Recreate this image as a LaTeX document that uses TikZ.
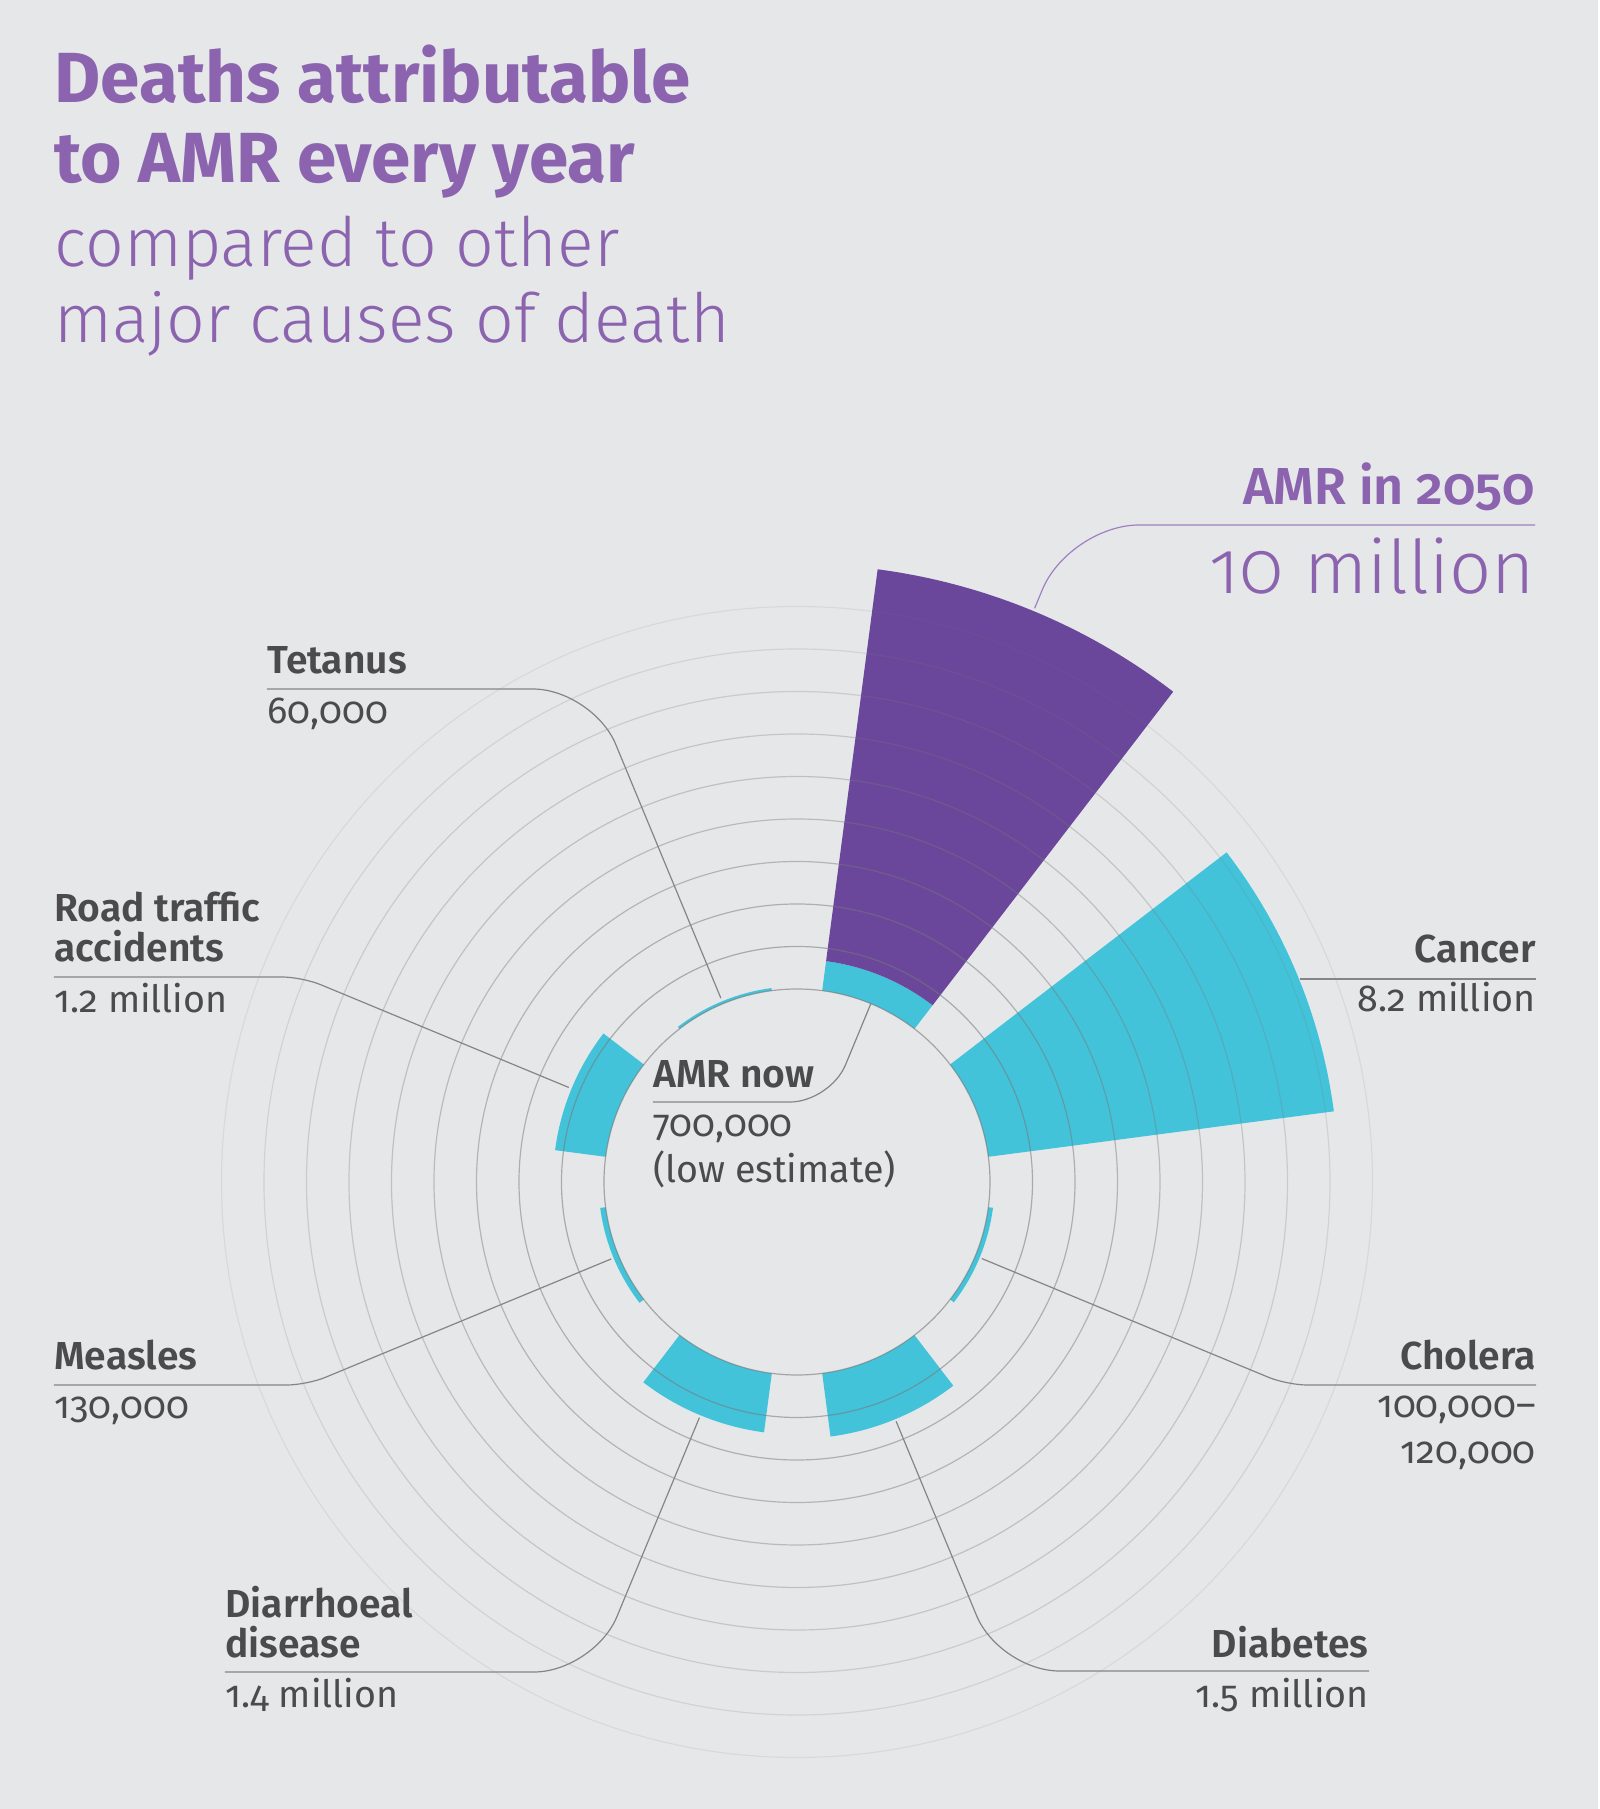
\documentclass[tikz,border=0pt]{standalone}
\usepackage{fontspec}
\setmainfont{Fira Sans}[Numbers=OldStyle]
\newfontfamily\lightfont{Fira Sans Light}[Numbers=OldStyle]
\newfontfamily\semifont{Fira Sans SemiBold}[Numbers=OldStyle]

\definecolor{bgcol}{HTML}{E6E7E9}
\definecolor{amrpurple}{HTML}{6A479B}
\definecolor{titlecol}{HTML}{8B63AE}
\definecolor{rulepurple}{HTML}{A080C2}
\definecolor{barcyan}{HTML}{43C3DA}
\definecolor{inkgray}{HTML}{4B4B4D}
\definecolor{ringcol}{HTML}{787878}
\definecolor{leadcol}{HTML}{858585}

\newcommand{\wedgebar}[5]{\fill[#1] (#2:#4) arc (#2:#3:#4) -- (#3:#5) arc (#3:#2:#5) -- cycle;}

\tikzset{
every node/.style={inner sep=0pt, text=inkgray},
cat/.style={font=\semifont\fontsize{19.5}{20}\selectfont},
val/.style={font=\fontsize{18.8}{23}\selectfont},
ring/.style={draw=ringcol, line width=0.6pt},
leader/.style={draw=leadcol, line width=0.6pt}
}

\begin{document}
\begin{tikzpicture}[x=0.5pt, y=0.5pt]
\fill[bgcol] (-797,-627) rectangle (803,1182);
\fill[white] (801,-627) rectangle (803,1182);
\useasboundingbox (-797,-627) rectangle (803,1182);

% bars, one million = 42.5
\wedgebar{barcyan}{52.5}{82.5}{193}{222.75}
\wedgebar{amrpurple}{52.5}{82.5}{222.75}{618}
\wedgebar{barcyan}{7.5}{37.5}{193}{541.5}
\wedgebar{barcyan}{-37.5}{-7.5}{193}{197.7}
\wedgebar{barcyan}{-82.5}{-52.5}{193}{256.75}
\wedgebar{barcyan}{-127.5}{-97.5}{193}{252.5}
\wedgebar{barcyan}{-172.5}{-142.5}{193}{198.5}
\wedgebar{barcyan}{142.5}{172.5}{193}{244}
\wedgebar{barcyan}{97.5}{127.5}{193}{195.6}

% rings
\draw[ring, opacity=.6] (0,0) circle (193);
\draw[ring, opacity=.55] (0,0) circle (235.5);
\draw[ring, opacity=.5] (0,0) circle (278);
\draw[ring, opacity=.45] (0,0) circle (320.5);
\draw[ring, opacity=.4] (0,0) circle (363);
\draw[ring, opacity=.35] (0,0) circle (405.5);
\draw[ring, opacity=.3] (0,0) circle (448);
\draw[ring, opacity=.25] (0,0) circle (490.5);
\draw[ring, opacity=.18] (0,0) circle (533);
\draw[ring, opacity=.12] (0,0) circle (575.5);

% title
\node[font=\bfseries\fontsize{35.5}{40}\selectfont, text=titlecol, anchor=base west, align=left] (title) at (-743,999) {Deaths attributable\\to AMR every year};
\node[font=\lightfont\fontsize{34}{38}\selectfont, text=titlecol, anchor=base west, align=left] (subtitle) at (-743,839) {compared to other\\major causes of death};

% labels
\node[font=\semifont\fontsize{26}{26}\selectfont, text=titlecol, anchor=base east] (amr2050) at (738,677) {AMR in 2050};
\node[font=\lightfont\fontsize{37}{37}\selectfont, text=titlecol, anchor=base east] (tenmil) at (738,588) {10 million};
\node[cat, anchor=base west] (amrnow) at (-144,94) {AMR now};
\node[val, anchor=base west, align=left] (amrnowval) at (-144,-1) {700,000\\(low estimate)};
\node[cat, anchor=base east] (cancer) at (739,219) {Cancer};
\node[val, anchor=base east] (cancerval) at (739,170) {8.2 million};
\node[cat, anchor=base east] (cholera) at (739,-187) {Cholera};
\node[val, anchor=base east, align=right] (choleraval) at (739,-281) {100,000\textendash\\120,000};
\node[cat, anchor=base east] (diabetes) at (572,-475) {Diabetes};
\node[val, anchor=base east] (diabetesval) at (572,-525) {1.5 million};
\node[cat, anchor=base west, align=left] (diarr) at (-572,-475) {Diarrhoeal\\disease};
\node[val, anchor=base west] (diarrval) at (-572,-525) {1.4 million};
\node[cat, anchor=base west] (measles) at (-743,-187) {Measles};
\node[val, anchor=base west] (measlesval) at (-743,-236) {130,000};
\node[cat, anchor=base west, align=left] (road) at (-743,220) {Road traffic\\accidents};
\node[val, anchor=base west] (roadval) at (-743,169) {1.2 million};
\node[cat, anchor=base west] (tetanus) at (-530,508) {Tetanus};
\node[val, anchor=base west] (tetanusval) at (-530,458) {60,000};

% leaders
\coordinate (amrA) at (67.5:621);
\coordinate (amrB) at (272.1,657);
\coordinate (nowA) at (67.5:193);
\coordinate (nowB) at (33.1,80);
\coordinate (canA) at (503,203);
\coordinate (choA) at (-22.5:200);
\coordinate (choB) at (490.1,-203);
\coordinate (diaA) at (-67.5:259);
\coordinate (diaB) at (202.5,-489);
\coordinate (dirA) at (-112.5:255);
\coordinate (dirB) at (-203,-490);
\coordinate (meaA) at (-157.5:201);
\coordinate (meaB) at (-490.1,-203);
\coordinate (roaA) at (157.5:247);
\coordinate (roaB) at (-494.9,205);
\coordinate (tetA) at (112.5:199);
\coordinate (tetB) at (-204.2,493);

\draw[draw=rulepurple, line width=0.6pt, rounded corners=35pt] (amrA) -- (amrB) -- (amr2050.east |- amrB);
\draw[leader, rounded corners=20pt] (nowA) -- (nowB) -- (amrnow.west |- nowB);
\draw[leader] (canA) -- (cancer.east |- canA);
\draw[leader, rounded corners=10pt] (choA) -- (choB) -- (cholera.east |- choB);
\draw[leader, rounded corners=30pt] (diaA) -- (diaB) -- (diabetes.east |- diaB);
\draw[leader, rounded corners=30pt] (dirA) -- (dirB) -- (diarr.west |- dirB);
\draw[leader, rounded corners=10pt] (meaA) -- (meaB) -- (measles.west |- meaB);
\draw[leader, rounded corners=10pt] (roaA) -- (roaB) -- (road.west |- roaB);
\draw[leader, rounded corners=30pt] (tetA) -- (tetB) -- (tetanus.west |- tetB);
\end{tikzpicture}
\end{document}
